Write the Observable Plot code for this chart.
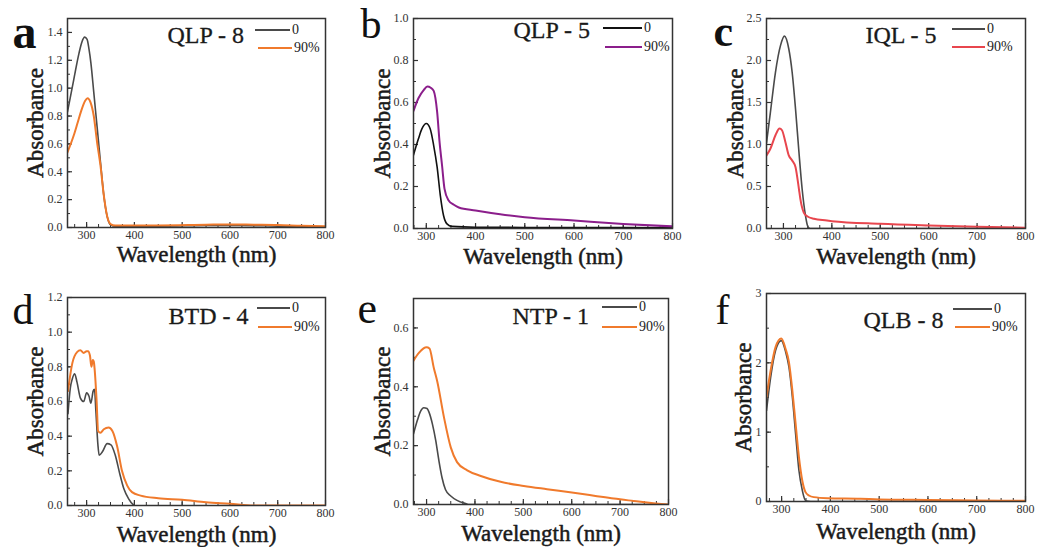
<!DOCTYPE html>
<html><head><meta charset="utf-8">
<script src="https://cdn.jsdelivr.net/npm/d3@7"></script>
<script src="https://cdn.jsdelivr.net/npm/@observablehq/plot@0.6"></script>
<style>
body{margin:0;background:#fff;}
#wrap{position:relative;width:1037px;height:547px;overflow:hidden;font-family:"Liberation Serif",serif;}
.panel{position:absolute;font-family:"Liberation Serif",serif;}
.leg{position:absolute;display:flex;align-items:center;font-family:"Liberation Serif",serif;font-size:14px;line-height:14px;height:14px;color:#222;white-space:nowrap;}
.leg .sw{display:inline-block;height:2px;margin-right:2px;}
</style></head><body><div id="wrap"></div>
<script>
// ---- data (wavelength nm, absorbance) ----
const qlp8_0 = [[260,0.83],[273,1.06],[284,1.25],[290,1.33],[296,1.366],[301,1.35],[305,1.28],[309,1.18],[315,0.97],[322,0.72],[329,0.47],[336,0.23],[343,0.08],[350,0.02],[360,0.01],[450,0.01],[550,0.014],[620,0.015],[700,0.01],[800,0.005]];
const qlp8_90 = [[260,0.54],[273,0.66],[281,0.75],[288,0.83],[297,0.91],[302,0.928],[308,0.90],[315,0.80],[322,0.61],[329,0.445],[336,0.23],[343,0.08],[350,0.025],[360,0.015],[450,0.015],[550,0.02],[600,0.022],[650,0.02],[700,0.018],[750,0.012],[800,0.008]];
const qlp5_0 = [[274,0.35],[284,0.427],[291,0.474],[300,0.50],[308,0.474],[315,0.395],[322,0.292],[328.5,0.157],[335,0.062],[342,0.022],[352,0.01],[400,0.006],[500,0.005],[600,0.005],[700,0.004],[800,0.003]];
const qlp5_90 = [[274,0.56],[284,0.62],[295,0.66],[302,0.676],[309,0.67],[315,0.655],[322,0.555],[327,0.41],[332,0.30],[337,0.189],[345,0.135],[356,0.113],[366,0.10],[400,0.086],[450,0.068],[500,0.054],[600,0.038],[700,0.022],[800,0.01]];
const iql5_0 = [[265,1.02],[273,1.38],[283.5,1.86],[294,2.18],[302,2.29],[311,2.14],[318,1.86],[325,1.42],[332,0.91],[338.6,0.47],[345.5,0.155],[350,0.03],[355,0],[400,0],[800,0]];
const iql5_90 = [[265,0.87],[273,0.95],[283.5,1.11],[292,1.19],[297,1.17],[304,1.03],[311,0.87],[318,0.81],[325,0.73],[328,0.63],[332,0.47],[335,0.35],[342,0.19],[349,0.145],[363,0.115],[390,0.095],[400,0.087],[500,0.056],[600,0.036],[700,0.02],[800,0.01]];
const btd4_0 = [[261,0.53],[266,0.68],[270,0.73],[275,0.76],[280,0.71],[287,0.62],[294,0.60],[300,0.65],[305,0.63],[309,0.59],[313.7,0.66],[316.5,0.67],[319.3,0.55],[323.5,0.356],[326.3,0.29],[333,0.31],[343,0.357],[351,0.35],[360,0.29],[369.5,0.182],[378,0.096],[388,0.038],[397,0.006],[400,0]];
const btd4_90 = [[261,0.66],[270,0.82],[280,0.885],[287,0.895],[294,0.88],[300,0.89],[303,0.89],[307,0.865],[310,0.80],[313,0.84],[315,0.83],[317,0.78],[321,0.60],[324,0.43],[329,0.42],[336,0.44],[346,0.45],[354,0.43],[364,0.34],[374,0.20],[385,0.115],[395,0.077],[413,0.057],[450,0.042],[500,0.033],[550,0.019],[600,0.01],[650,0],[800,0]];
const ntp1_0 = [[273,0.24],[281,0.286],[288,0.318],[294,0.329],[301,0.326],[305,0.314],[312,0.274],[319,0.217],[325.5,0.149],[332,0.091],[339,0.051],[350,0.029],[363,0.014],[381,0.003],[388,0],[800,0]];
const ntp1_90 = [[273,0.489],[285,0.517],[300,0.534],[306,0.53],[315,0.464],[322,0.419],[336,0.296],[350,0.194],[363,0.144],[384,0.116],[412,0.097],[453,0.077],[501,0.063],[549,0.052],[604,0.04],[646,0.03],[687,0.02],[728,0.012],[760,0.006],[785,0.002],[800,0]];
const qlb8_0 = [[269,1.31],[277.5,1.79],[287.7,2.18],[299.3,2.32],[308.2,2.16],[315,1.94],[322,1.51],[328.7,0.976],[335.5,0.447],[342.4,0.16],[347,0.04],[351,0.005],[360,0],[800,0]];
const qlb8_90 = [[269,1.505],[277.5,1.89],[287.7,2.23],[299.3,2.35],[308.2,2.20],[315,2.01],[322,1.60],[328.7,1.12],[335.5,0.64],[342.4,0.30],[349,0.135],[356,0.087],[366,0.063],[394,0.048],[462,0.04],[500,0.03],[600,0.022],[700,0.015],[800,0.01]];

const letters = ["a","b","c","d","e","f"];
const titles = ["QLP - 8","QLP - 5","IQL - 5","BTD - 4","NTP - 1","QLB - 8"];
const seriesNames = ["0","90%"];
const xTicks = [300,400,500,600,700,800];
const yTicksA = [0,0.2,0.4,0.6,0.8,1.0,1.2,1.4];
const yTicksB = [0,0.2,0.4,0.6,0.8,1.0];
const yTicksC = [0,0.5,1.0,1.5,2.0,2.5];
const yTicksD = [0,0.2,0.4,0.6,0.8,1.0,1.2];
const yTicksE = [0,0.2,0.4,0.6];
const yTicksF = [0,1,2,3];

// ---- layout / style ----
const GRAY = "#4a4a4a", BLACK = "#111", ORANGE = "#f07a2c", PURPLE = "#8b1e8b", RED = "#e8464e";
const FONT = "Liberation Serif";
const INK = "#1a1a1a";
const f1 = d3.format(".1f");
const panels = [
  {s0:qlp8_0, s1:qlp8_90, c0:GRAY, c1:ORANGE, xd:[260,800], yd:[0,1.5], yt:yTicksA, ym:0.1, fmt:f1,
   box:[0,0,345,270], frame:[67,325,18,227], let:{dx:-55,dy:29,fs:48,fw:"bold"}, tit:{dx:100,dy:24}, ylab:32, xlab:34,
   leg:[[255,35,30],[258,34,48]]},
  {s0:qlp5_0, s1:qlp5_90, c0:BLACK, c1:PURPLE, xd:[274,800], yd:[0,1.0], yt:yTicksB, ym:0.1, fmt:f1,
   box:[345,0,345,270], frame:[413,672,18,228], let:{dx:-53,dy:19,fs:42,fw:"normal"}, tit:{dx:100,dy:19}, ylab:31, xlab:35,
   leg:[[603,39,28],[605,37,47]]},
  {s0:iql5_0, s1:iql5_90, c0:GRAY, c1:RED, xd:[265,800], yd:[0,2.5], yt:yTicksC, ym:0.25, fmt:f1,
   box:[690,0,347,270], frame:[766,1025,18,228], let:{dx:-53,dy:27,fs:44,fw:"bold"}, tit:{dx:99,dy:24}, ylab:31, xlab:35,
   leg:[[952,33,29],[952,33,47]]},
  {s0:btd4_0, s1:btd4_90, c0:GRAY, c1:ORANGE, xd:[260,800], yd:[0,1.2], yt:yTicksD, ym:0.1, fmt:f1,
   box:[0,270,345,277], frame:[67,325,297,505], let:{dx:-55,dy:26,fs:42,fw:"normal"}, tit:{dx:101,dy:26}, ylab:32, xlab:36,
   leg:[[257,33,308],[258,34,327]]},
  {s0:ntp1_0, s1:ntp1_90, c0:GRAY, c1:ORANGE, xd:[273,800], yd:[0,0.7], yt:yTicksE, ym:0.1, fmt:f1,
   box:[345,270,345,277], frame:[413,668,298,504], let:{dx:-56,dy:24,fs:44,fw:"normal"}, tit:{dx:99,dy:25}, ylab:31, xlab:36,
   leg:[[602,35,307],[602,35,327]]},
  {s0:qlb8_0, s1:qlb8_90, c0:GRAY, c1:ORANGE, xd:[269,800], yd:[0,3], yt:yTicksF, ym:0.5, fmt:d=>String(d),
   box:[690,270,347,277], frame:[766,1025,293,501], let:{dx:-51,dy:30,fs:42,fw:"normal"}, tit:{dx:97,dy:34}, ylab:23, xlab:37,
   leg:[[953,39,309],[955,35,327]]}
];

const wrap = document.getElementById("wrap");

panels.forEach((p, i) => {
  const [L, T, W, H] = p.box;
  const ml = p.frame[0] - L, mr = L + W - p.frame[1], mt = p.frame[2] - T, mb = T + H - p.frame[3];
  const ih = H - mt - mb, iw = W - ml - mr;
  const xMinor = d3.range(Math.ceil(p.xd[0] / 25) * 25, p.xd[1] + 1, 25);
  const yMinor = d3.range(0, p.yd[1] + 1e-9, p.ym).map(v => +v.toFixed(4));
  const bigText = {fontFamily: FONT, fill: INK, stroke: INK, strokeWidth: 0.5};
  const chart = Plot.plot({
    width: W, height: H, marginLeft: ml, marginRight: mr, marginTop: mt, marginBottom: mb,
    style: {fontFamily: FONT, background: "transparent", overflow: "visible", color: "#333"},
    x: {domain: p.xd}, y: {domain: p.yd},
    marks: [
      Plot.tickX(xMinor, {x: d => d, insetTop: ih - 3, stroke: "#333", strokeWidth: 1}),
      Plot.tickX(xTicks, {x: d => d, insetTop: ih - 5, stroke: "#333", strokeWidth: 1.2}),
      Plot.tickY(yMinor, {y: d => d, insetRight: iw - 3, stroke: "#333", strokeWidth: 1}),
      Plot.tickY(p.yt, {y: d => d, insetRight: iw - 5, stroke: "#333", strokeWidth: 1.2}),
      Plot.line(p.s0, {x: d => d[0], y: d => d[1], stroke: p.c0, strokeWidth: 1.6, curve: "monotone-x", clip: true}),
      Plot.line(p.s1, {x: d => d[0], y: d => d[1], stroke: p.c1, strokeWidth: 2, curve: "monotone-x", clip: true}),
      Plot.frame({stroke: "#333", strokeWidth: 1.5}),
      Plot.axisX(xTicks, {tickSize: 0, tickPadding: 3, fontSize: 12, fontFamily: FONT, tickFormat: d => String(d), label: null, fill: "#333"}),
      Plot.axisY(p.yt, {tickSize: 0, tickPadding: 5, fontSize: 12, fontFamily: FONT, tickFormat: p.fmt, label: null, fill: "#333"}),
      Plot.text(["Absorbance"], {text: d => d, frameAnchor: "left", rotate: -90, dx: -p.ylab, fontSize: 23, textAnchor: "middle", lineAnchor: "middle", ...bigText}),
      Plot.text(["Wavelength (nm)"], {text: d => d, frameAnchor: "bottom", dy: p.xlab, fontSize: 23, textAnchor: "middle", lineAnchor: "bottom", ...bigText}),
      Plot.text([letters[i]], {text: d => d, frameAnchor: "top-left", dx: p.let.dx, dy: p.let.dy, fontSize: p.let.fs, fontWeight: p.let.fw, fontFamily: FONT, fill: "#111", textAnchor: "start", lineAnchor: "bottom"}),
      Plot.text([titles[i]], {text: d => d, frameAnchor: "top-left", dx: p.tit.dx, dy: p.tit.dy, fontSize: 24, textAnchor: "start", lineAnchor: "bottom", ...bigText, strokeWidth: 0.3})
    ]
  });
  chart.classList.add("panel");
  chart.style.left = L + "px";
  chart.style.top = T + "px";
  wrap.appendChild(chart);
  // legend
  [p.c0, p.c1].forEach((col, k) => {
    const [lx, len, ly] = p.leg[k];
    const row = document.createElement("div");
    row.className = "leg";
    row.style.left = lx + "px";
    row.style.top = (ly - 7) + "px";
    const sw = document.createElement("span");
    sw.className = "sw";
    sw.style.width = len + "px";
    sw.style.background = col;
    const tx = document.createElement("span");
    tx.textContent = seriesNames[k];
    row.appendChild(sw); row.appendChild(tx);
    wrap.appendChild(row);
  });
});
</script>
</body></html>
